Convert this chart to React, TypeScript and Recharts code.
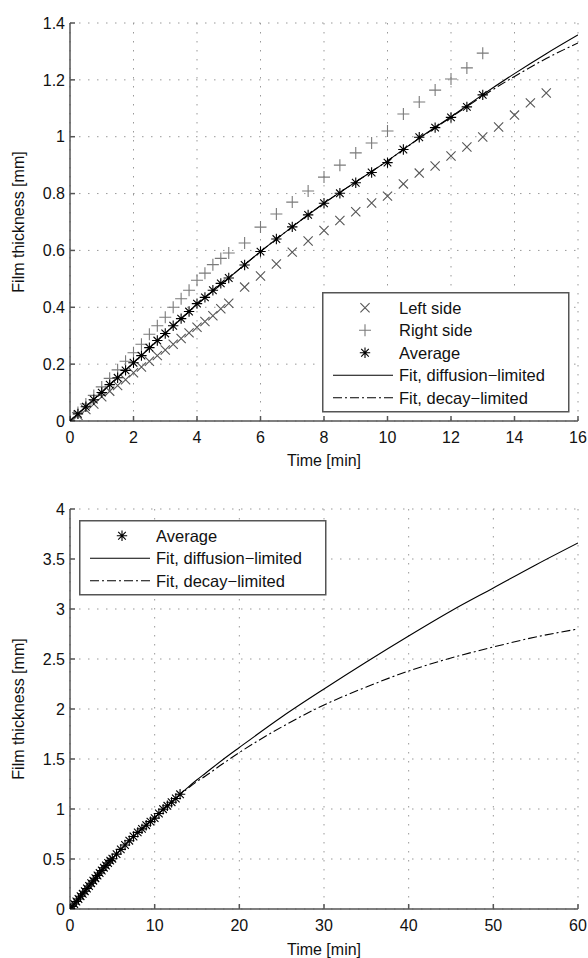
import React from 'react';
import { ComposedChart, Scatter, Line, XAxis, YAxis, CartesianGrid } from 'recharts';

const FONT = '"Liberation Sans", Arial, Helvetica, sans-serif';

// ---------- data ----------
const rightTime = [0, 0.25, 0.5, 0.75, 1, 1.25, 1.5, 1.75, 2, 2.25, 2.5, 2.75, 3, 3.25, 3.5, 3.75, 4, 4.25, 4.5, 4.75, 5,
  5.5, 6, 6.5, 7, 7.5, 8, 8.5, 9, 9.5, 10, 10.5, 11, 11.5, 12, 12.5, 13];
const rightValue = [0, 0.03, 0.06, 0.09, 0.12, 0.15, 0.18, 0.21, 0.24, 0.27, 0.305, 0.335, 0.365, 0.4, 0.43, 0.46, 0.495, 0.52, 0.55, 0.572, 0.591,
  0.626, 0.682, 0.728, 0.77, 0.809, 0.858, 0.9, 0.943, 0.978, 1.02, 1.08, 1.122, 1.164, 1.203, 1.242, 1.294];

const leftTime = [0, 0.25, 0.5, 0.75, 1, 1.25, 1.5, 1.75, 2, 2.25, 2.5, 2.75, 3, 3.25, 3.5, 3.75, 4, 4.25, 4.5, 4.75, 5,
  5.5, 6, 6.5, 7, 7.5, 8, 8.5, 9, 9.5, 10, 10.5, 11, 11.5, 12, 12.5, 13, 13.5, 14, 14.5, 15];
const leftValue = [0, 0.02, 0.04, 0.06, 0.085, 0.105, 0.125, 0.145, 0.17, 0.19, 0.21, 0.23, 0.25, 0.27, 0.29, 0.31, 0.33, 0.35, 0.37, 0.395, 0.414,
  0.471, 0.51, 0.552, 0.594, 0.633, 0.67, 0.705, 0.736, 0.767, 0.791, 0.834, 0.872, 0.897, 0.932, 0.964, 0.999, 1.034, 1.076, 1.119, 1.154];

const avgTime = [0, 0.25, 0.5, 0.75, 1, 1.25, 1.5, 1.75, 2, 2.25, 2.5, 2.75, 3, 3.25, 3.5, 3.75, 4, 4.25, 4.5, 4.75, 5,
  5.5, 6, 6.5, 7, 7.5, 8, 8.5, 9, 9.5, 10, 10.5, 11, 11.5, 12, 12.5, 13];
const avgValue = [0, 0.025, 0.05, 0.075, 0.1, 0.128, 0.152, 0.178, 0.205, 0.23, 0.258, 0.283, 0.308, 0.335, 0.36, 0.385, 0.413, 0.435, 0.46, 0.484, 0.503,
  0.549, 0.596, 0.64, 0.683, 0.725, 0.766, 0.801, 0.838, 0.874, 0.909, 0.955, 0.998, 1.032, 1.068, 1.105, 1.147];

const fitTime = [0, 1, 2, 3, 4, 5, 6, 7, 8, 9, 10, 11, 12, 13, 14, 15, 16, 18, 20, 25, 30, 35, 40, 45, 50, 55, 60];
const fitDiffusion = [0, 0.102, 0.205, 0.308, 0.41, 0.503, 0.596, 0.683, 0.766, 0.841, 0.915, 0.995, 1.07, 1.148, 1.222, 1.292, 1.358,
  1.49, 1.615, 1.92, 2.2, 2.47, 2.73, 2.98, 3.21, 3.44, 3.66];
const fitDecay = [0, 0.102, 0.205, 0.308, 0.41, 0.503, 0.596, 0.683, 0.766, 0.841, 0.915, 0.994, 1.068, 1.143, 1.212, 1.275, 1.33,
  1.45, 1.565, 1.82, 2.04, 2.22, 2.38, 2.51, 2.62, 2.72, 2.8];

const topXTicks = [0, 2, 4, 6, 8, 10, 12, 14, 16];
const topYTicks = [0, 0.2, 0.4, 0.6, 0.8, 1, 1.2, 1.4];
const bottomXTicks = [0, 10, 20, 30, 40, 50, 60];
const bottomYTicks = [0, 0.5, 1, 1.5, 2, 2.5, 3, 3.5, 4];

const zip = (ts: number[], vs: number[]) => ts.map((t, i) => ({ t, v: vs[i] }));
const leftData = zip(leftTime, leftValue);
const rightData = zip(rightTime, rightValue);
const avgData = zip(avgTime, avgValue);
const diffData = zip(fitTime, fitDiffusion);
const decayData = zip(fitTime, fitDecay);
const diffTop = diffData.filter((d) => d.t <= 16);
const decayTop = decayData.filter((d) => d.t <= 16);

// ---------- styles ----------
const AXIS = '#555';
const LEFT_C = '#555';
const RIGHT_C = '#7a7a7a';
const DASH = '9 3 2 3';

const crossPath = (cx: number, cy: number, r: number) =>
  `M${cx - r},${cy - r}L${cx + r},${cy + r}M${cx - r},${cy + r}L${cx + r},${cy - r}`;
const plusPath = (cx: number, cy: number, r: number) =>
  `M${cx - r},${cy}L${cx + r},${cy}M${cx},${cy - r}L${cx},${cy + r}`;

const XMark = (p: any) => <path d={crossPath(p.cx, p.cy, 4.6)} stroke={LEFT_C} strokeWidth={1.1} fill="none" />;
const PlusMark = (p: any) => <path d={plusPath(p.cx, p.cy, 6)} stroke={RIGHT_C} strokeWidth={1.1} fill="none" />;
const StarMark = (p: any) => (
  <path d={plusPath(p.cx, p.cy, 5.2) + crossPath(p.cx, p.cy, 3.8)} stroke="#000" strokeWidth={1.1} fill="none" />
);

const tickStyle = { fill: '#111', fontSize: 16, fontFamily: FONT };

const YLabel = (props: any) => {
  const vb = props.viewBox || {};
  const cy = vb.y + vb.height / 2;
  return (
    <text x={18} y={cy} transform={`rotate(-90, 18, ${cy})`} textAnchor="middle" dominantBaseline="central"
      fill="#111" fontSize={16} fontFamily={FONT}>
      Film thickness [mm]
    </text>
  );
};

type Item = { label: string; kind: 'x' | 'plus' | 'star' | 'solid' | 'dash' };

function LegendBox({ left, top, items }: { left: number; top: number; items: Item[] }) {
  const w = 246;
  const rowH = 22.5;
  const h = 29 + (items.length - 1) * rowH;
  return (
    <svg style={{ position: 'absolute', left, top }} width={w + 2} height={h + 2}>
      <rect x={0.75} y={0.75} width={w} height={h} fill="#fff" stroke={AXIS} strokeWidth={1.5} />
      {items.map((it, i) => {
        const cy = 15.75 + i * rowH;
        let sample: React.ReactNode = null;
        if (it.kind === 'x') sample = <XMark cx={43} cy={cy} />;
        if (it.kind === 'plus') sample = <PlusMark cx={43} cy={cy} />;
        if (it.kind === 'star') sample = <StarMark cx={43} cy={cy} />;
        if (it.kind === 'solid') sample = <line x1={11} x2={71} y1={cy} y2={cy} stroke="#000" strokeWidth={1.1} />;
        if (it.kind === 'dash')
          sample = <line x1={11} x2={71} y1={cy} y2={cy} stroke="#000" strokeWidth={1.1} strokeDasharray={DASH} />;
        return (
          <g key={i}>
            {sample}
            <text x={77} y={cy} dominantBaseline="central" fontSize={16.5} fontFamily={FONT} fill="#111">
              {it.label}
            </text>
          </g>
        );
      })}
    </svg>
  );
}

function TopChart() {
  return (
    <ComposedChart width={588} height={480} margin={{ top: 23, right: 10, bottom: 0, left: 0 }}>
      <CartesianGrid stroke="#999" strokeDasharray="1.5 7.5" />
      <XAxis type="number" dataKey="t" domain={[0, 16]} ticks={topXTicks} allowDataOverflow height={59}
        tickSize={-5} tickMargin={16} stroke={AXIS} strokeWidth={1.5} tick={tickStyle}
        label={{ value: 'Time [min]', position: 'insideBottom', offset: 14, fill: '#111', fontSize: 16, fontFamily: FONT }} />
      <XAxis xAxisId="top" orientation="top" type="number" domain={[0, 16]} ticks={topXTicks} allowDataOverflow height={0}
        tickSize={-5} stroke={AXIS} strokeWidth={1.5} tickFormatter={() => ''} />
      <YAxis type="number" dataKey="v" domain={[0, 1.4]} ticks={topYTicks} allowDataOverflow width={70}
        tickSize={-5} tickMargin={10} stroke={AXIS} strokeWidth={1.5} tick={tickStyle} label={<YLabel />} />
      <YAxis yAxisId="right" orientation="right" type="number" domain={[0, 1.4]} ticks={topYTicks} allowDataOverflow width={0}
        tickSize={-5} stroke={AXIS} strokeWidth={1.5} tickFormatter={() => ''} />
      <Line data={diffTop} dataKey="v" type="monotone" stroke="#000" strokeWidth={1.1} dot={false} isAnimationActive={false} />
      <Line data={decayTop} dataKey="v" type="monotone" stroke="#000" strokeWidth={1.1} strokeDasharray={DASH} dot={false} isAnimationActive={false} />
      <Scatter data={leftData} dataKey="v" shape={XMark} isAnimationActive={false} />
      <Scatter data={rightData} dataKey="v" shape={PlusMark} isAnimationActive={false} />
      <Scatter data={avgData} dataKey="v" shape={StarMark} isAnimationActive={false} />
    </ComposedChart>
  );
}

function BottomChart() {
  return (
    <ComposedChart width={588} height={478} margin={{ top: 29, right: 10, bottom: 0, left: 0 }}>
      <CartesianGrid stroke="#999" strokeDasharray="1.5 7.5" />
      <XAxis type="number" dataKey="t" domain={[0, 60]} ticks={bottomXTicks} allowDataOverflow height={49}
        tickSize={-5} tickMargin={16} stroke={AXIS} strokeWidth={1.5} tick={tickStyle}
        label={{ value: 'Time [min]', position: 'insideBottom', offset: 3, fill: '#111', fontSize: 16, fontFamily: FONT }} />
      <XAxis xAxisId="top" orientation="top" type="number" domain={[0, 60]} ticks={bottomXTicks} allowDataOverflow height={0}
        tickSize={-5} stroke={AXIS} strokeWidth={1.5} tickFormatter={() => ''} />
      <YAxis type="number" dataKey="v" domain={[0, 4]} ticks={bottomYTicks} allowDataOverflow width={70}
        tickSize={-5} tickMargin={10} stroke={AXIS} strokeWidth={1.5} tick={tickStyle} label={<YLabel />} />
      <YAxis yAxisId="right" orientation="right" type="number" domain={[0, 4]} ticks={bottomYTicks} allowDataOverflow width={0}
        tickSize={-5} stroke={AXIS} strokeWidth={1.5} tickFormatter={() => ''} />
      <Line data={diffData} dataKey="v" type="monotone" stroke="#000" strokeWidth={1.1} dot={false} isAnimationActive={false} />
      <Line data={decayData} dataKey="v" type="monotone" stroke="#000" strokeWidth={1.1} strokeDasharray={DASH} dot={false} isAnimationActive={false} />
      <Scatter data={avgData} dataKey="v" shape={StarMark} isAnimationActive={false} />
    </ComposedChart>
  );
}

export default function App() {
  return (
    <div style={{ position: 'absolute', left: 0, top: 0, width: 588, height: 958, background: '#fff' }}>
      <div style={{ position: 'absolute', left: 0, top: 0 }}>
        <TopChart />
      </div>
      <div style={{ position: 'absolute', left: 0, top: 480 }}>
        <BottomChart />
      </div>
      <LegendBox left={322} top={292} items={[
        { label: 'Left side', kind: 'x' },
        { label: 'Right side', kind: 'plus' },
        { label: 'Average', kind: 'star' },
        { label: 'Fit, diffusion\u2212limited', kind: 'solid' },
        { label: 'Fit, decay\u2212limited', kind: 'dash' },
      ]} />
      <LegendBox left={79} top={520} items={[
        { label: 'Average', kind: 'star' },
        { label: 'Fit, diffusion\u2212limited', kind: 'solid' },
        { label: 'Fit, decay\u2212limited', kind: 'dash' },
      ]} />
    </div>
  );
}
